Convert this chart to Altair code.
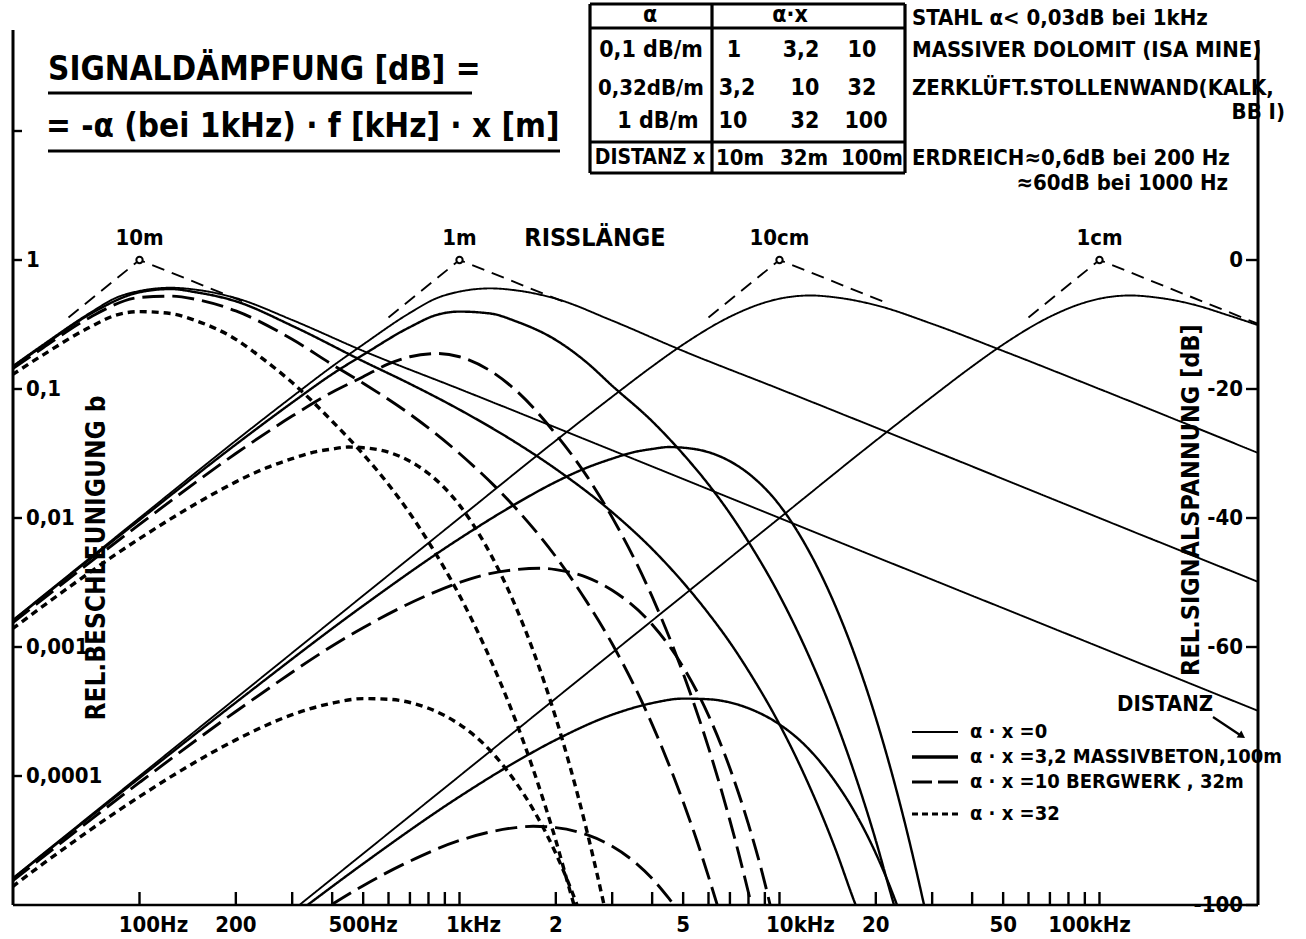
import altair as alt
import pandas as pd

FONT = "DejaVu Sans Condensed, Liberation Sans Narrow, Roboto Condensed, Arial Narrow, DejaVu Sans, sans-serif"
OX, OY = 13, 28          # plot-area origin in the page
W, H = 1245, 877         # plot-area size

# ---------------- data ----------------
# frequency [Hz] / level [dB]; crack length 10m, 1m, 10cm, 1cm
# alpha*x = 0 (thin solid)
t10m_f = [40, 50, 70, 85, 100, 125, 150, 200, 300, 500, 1000, 3000, 10000, 100000, 313000]
t10m_db = [-16.5, -13.1, -8.2, -5.8, -4.8, -4.3, -4.6, -5.9, -9.3, -14.1, -20.0, -29.5, -40.0, -60.0, -69.9]
t1m_f = [40, 100, 200, 300, 400, 500, 700, 850, 1000, 1250, 1500, 2000, 3000, 5000, 10000, 30000, 100000, 313000]
t1m_db = [-55.9, -40.0, -28.0, -21.2, -16.5, -13.1, -8.2, -5.9, -4.9, -4.4, -4.7, -6.0, -9.4, -14.1, -20.0, -29.5, -40.0, -49.9]
t10cm_f = [40, 100, 1000, 2000, 3000, 4000, 5000, 7000, 8500, 10000, 12500, 15000, 20000, 30000, 50000, 100000, 313000]
t10cm_db = [-95.9, -80.0, -40.0, -28.0, -21.2, -16.5, -13.1, -8.8, -7.0, -6.0, -5.5, -5.8, -7.0, -9.9, -14.1, -20.0, -29.9]
t1cm_f = [316, 1000, 10000, 20000, 30000, 40000, 50000, 70000, 85000, 100000, 125000, 150000, 200000, 250000, 313000]
t1cm_db = [-100.0, -80.0, -40.0, -28.0, -21.2, -16.5, -13.1, -8.8, -7.0, -6.0, -5.5, -5.8, -7.0, -8.5, -10.1]

# alpha*x = 3,2 (thick solid)
k10m_f = [40, 50, 70, 100, 125, 150, 200, 300, 500, 700, 1000, 1500, 2000, 3000, 4000, 5000, 6000, 7000, 8000, 10000, 12000, 15000, 17000, 17300]
k10m_db = [-16.6, -13.3, -8.4, -5.0, -4.5, -5.0, -6.4, -10.2, -15.7, -19.2, -23.2, -28.3, -32.4, -39.1, -44.8, -50.0, -54.8, -59.3, -63.7, -72.0, -80.0, -91.5, -99.0, -100.0]
k1m_f = [40, 100, 200, 300, 400, 500, 700, 850, 1000, 1250, 1500, 2000, 2500, 3000, 4000, 5000, 6000, 7000, 8000, 10000, 12000, 15000, 17000, 20000, 22000, 22800]
k1m_db = [-56.0, -40.3, -28.6, -22.1, -17.7, -14.7, -10.4, -8.5, -8.0, -8.3, -9.5, -12.4, -15.9, -19.5, -25.0, -30.1, -34.8, -39.3, -43.7, -52.0, -60.0, -71.5, -79.0, -90.0, -97.3, -100.0]
k10cm_f = [40, 100, 200, 500, 1000, 1500, 2000, 2500, 3000, 3500, 4000, 4500, 5000, 6000, 7000, 8000, 10000, 12000, 15000, 17000, 20000, 22000, 25000, 27000, 28300]
k10cm_db = [-96.0, -80.3, -68.6, -53.6, -43.2, -37.8, -34.4, -32.2, -30.8, -29.8, -29.3, -29.0, -29.1, -29.8, -31.2, -33.1, -38.0, -44.0, -53.8, -60.6, -71.0, -78.0, -88.5, -95.5, -100.0]
k1cm_f = [335, 500, 1000, 1500, 2000, 3000, 4000, 5000, 6000, 7000, 8000, 10000, 12000, 15000, 17000, 20000, 22000, 23300]
k1cm_db = [-100.0, -93.6, -83.2, -77.8, -74.4, -70.5, -68.7, -68.0, -68.1, -68.6, -69.5, -72.0, -75.2, -81.0, -85.2, -92.0, -96.8, -100.0]

# alpha*x = 10 (long dashes)
l10m_f = [40, 50, 70, 100, 125, 150, 200, 300, 400, 500, 700, 1000, 1500, 2000, 2500, 3000, 4000, 5000, 5500, 6000, 6400]
l10m_db = [-16.9, -13.6, -8.9, -5.8, -5.6, -6.1, -7.9, -12.3, -16.2, -19.1, -23.9, -30.0, -38.5, -46.0, -53.0, -59.5, -72.0, -84.0, -89.8, -95.6, -100.1]
l1m_f = [40, 100, 200, 300, 400, 500, 600, 700, 850, 1000, 1250, 1500, 2000, 2500, 3000, 4000, 5000, 6000, 7000, 7500, 8000, 8200]
l1m_db = [-56.3, -41.0, -30.0, -24.2, -20.5, -18.1, -16.1, -15.0, -14.5, -15.0, -17.2, -20.2, -27.0, -33.5, -39.9, -52.2, -64.1, -75.6, -86.9, -92.5, -98.1, -100.3]
l10cm_f = [40, 100, 200, 500, 800, 1000, 1200, 1500, 1800, 2000, 2500, 3000, 4000, 5000, 6000, 7000, 8000, 9000, 9350]
l10cm_db = [-96.3, -81.0, -70.0, -57.0, -51.9, -50.0, -48.8, -48.0, -47.8, -48.0, -49.2, -51.2, -56.5, -63.1, -70.6, -78.8, -87.5, -96.6, -100.0]
l1cm_f = [400, 500, 700, 1000, 1500, 1700, 2000, 2500, 3000, 3500, 4000, 4500, 4700]
l1cm_db = [-99.9, -97.0, -93.2, -90.0, -88.0, -87.8, -88.0, -89.1, -90.9, -93.2, -95.9, -98.9, -100.1]

# alpha*x = 32 (short dashes)
s10m_f = [40, 50, 70, 85, 100, 125, 150, 200, 250, 300, 400, 500, 600, 700, 800, 1000, 1200, 1500, 1700, 2000, 2200, 2280]
s10m_db = [-17.8, -14.7, -10.4, -8.5, -8.0, -8.3, -9.4, -12.3, -15.8, -19.0, -25.0, -30.1, -34.8, -39.3, -43.7, -52.0, -60.0, -71.5, -79.0, -90.0, -97.3, -100.0]
s1m_f = [40, 100, 150, 200, 250, 300, 350, 400, 450, 500, 600, 700, 800, 1000, 1200, 1500, 1700, 2000, 2200, 2500, 2700, 2830]
s1m_db = [-57.2, -43.2, -37.8, -34.4, -32.2, -30.8, -29.8, -29.3, -29.0, -29.1, -29.8, -31.2, -33.1, -38.0, -44.0, -53.8, -60.6, -71.0, -78.0, -88.5, -95.5, -100.0]
s10cm_f = [40, 50, 100, 150, 200, 300, 400, 500, 600, 700, 800, 1000, 1200, 1500, 1700, 2000, 2200, 2330]
s10cm_db = [-97.2, -93.6, -83.2, -77.8, -74.4, -70.5, -68.7, -68.0, -68.1, -68.6, -69.5, -72.0, -75.2, -81.0, -85.2, -92.0, -96.8, -100.0]

# dashed asymptotes (left leg, corner, right leg)
a10m_f = [60, 100, 220]
a1m_f = [600, 1000, 2200]
a10cm_f = [6000, 10000, 22000]
a1cm_f = [60000, 100000, 313000]
a_db = [-8.9, 0.0, -6.8]
a1cm_db = [-8.9, 0.0, -9.9]

# crack lengths (RISSLÄNGE) and their corner frequencies
crack_f = [100, 1000, 10000, 100000]
crack_lbl = ["10m", "1m", "10cm", "1cm"]
corner_db = [0, 0, 0, 0]

# axes
bottom_ticks = [100, 200, 300, 400, 500, 600, 700, 800, 900,
                1000, 2000, 3000, 4000, 5000, 6000, 7000, 8000, 9000,
                10000, 20000, 30000, 40000, 50000, 60000, 70000, 80000, 90000, 100000]
lbl_c_f = [200, 500, 2000, 5000, 20000, 50000]
lbl_c_t = ["200", "500Hz", "2", "5", "20", "50"]
lbl_a_f = [100, 1000]
lbl_a_t = ["100Hz", "1kHz"]
lbl_b_f = [10000]
lbl_b_t = ["10kHz"]
lbl_d_f = [100000]
lbl_d_t = ["100kHz"]
left_db = [20, 0, -20, -40, -60, -80]
left_lbl = ["", "1", "0,1", "0,01", "0,001", "0,0001"]
right_db = [0, -20, -40, -60, -100]
right_lbl = ["0", "-20", "-40", "-60", "-100"]

# ---------------- build tables ----------------
series = [
    ("10m", "0", t10m_f, t10m_db), ("1m", "0", t1m_f, t1m_db),
    ("10cm", "0", t10cm_f, t10cm_db), ("1cm", "0", t1cm_f, t1cm_db),
    ("10m", "3,2", k10m_f, k10m_db), ("1m", "3,2", k1m_f, k1m_db),
    ("10cm", "3,2", k10cm_f, k10cm_db), ("1cm", "3,2", k1cm_f, k1cm_db),
    ("10m", "10", l10m_f, l10m_db), ("1m", "10", l1m_f, l1m_db),
    ("10cm", "10", l10cm_f, l10cm_db), ("1cm", "10", l1cm_f, l1cm_db),
    ("10m", "32", s10m_f, s10m_db), ("1m", "32", s1m_f, s1m_db),
    ("10cm", "32", s10cm_f, s10cm_db),
]
rows = []
for crack, st, fs, dbs in series:
    for f, d in zip(fs, dbs):
        rows.append({"curve": crack + "_" + st, "style": st, "f": f, "db": d})
curve_df = pd.DataFrame(rows)

asy_rows = []
for name, fs, dbs in [("10m", a10m_f, a_db), ("1m", a1m_f, a_db),
                      ("10cm", a10cm_f, a_db), ("1cm", a1cm_f, a1cm_db)]:
    for f, d in zip(fs, dbs):
        asy_rows.append({"curve": name, "f": f, "db": d})
asy_df = pd.DataFrame(asy_rows)

xs = alt.Scale(type="log", domain=[40.24, 312900], nice=False)
ys = alt.Scale(domain=[-100, 35.97], nice=False, zero=False)
X = alt.X("f:Q", scale=xs, axis=None)
Y = alt.Y("db:Q", scale=ys, axis=None)

styles = ["0", "3,2", "10", "32"]
curves = alt.Chart(curve_df).mark_line(clip=True, interpolate="monotone", color="black").encode(
    x=X, y=Y, detail="curve:N",
    strokeDash=alt.StrokeDash("style:N", scale=alt.Scale(domain=styles, range=[[1, 0], [1, 0], [22, 8], [7, 5]]), legend=None),
    strokeWidth=alt.StrokeWidth("style:N", scale=alt.Scale(domain=styles, range=[1.9, 3.4, 3.0, 2.8]), legend=None),
)

asym = alt.Chart(asy_df).mark_line(clip=True, color="black", strokeWidth=1.9, strokeDash=[13, 8]).encode(
    x=X, y=Y, detail="curve:N")

peak_df = pd.DataFrame({"f": crack_f, "db": corner_db, "lbl": crack_lbl})
peaks = alt.Chart(peak_df).mark_point(shape="circle", size=40, filled=True, fill="white",
                                      stroke="black", strokeWidth=2, opacity=1).encode(x=X, y=Y)
peak_lbl = alt.Chart(peak_df).mark_text(fontSize=22, font=FONT, fontWeight="bold", baseline="middle", color="black").encode(
    x=X, y=alt.value(238 - OY), text="lbl:N")


def tx(s, x, y, size=21, align="left", angle=0, weight="bold"):
    return alt.Chart(pd.DataFrame({"t": [s]})).mark_text(
        align=align, baseline="middle", fontSize=size, angle=angle,
        font=FONT, fontWeight=weight, color="black"
    ).encode(x=alt.value(x - OX), y=alt.value(y - OY), text="t:N")


def ln(x1, y1, x2, y2, w=2.0, dash=None):
    kw = dict(strokeWidth=w, color="black")
    if dash:
        kw["strokeDash"] = dash
    return alt.Chart(pd.DataFrame({"a": [0]})).mark_rule(**kw).encode(
        x=alt.value(x1 - OX), x2=alt.value(x2 - OX), y=alt.value(y1 - OY), y2=alt.value(y2 - OY))


layers = [curves, asym, peaks, peak_lbl]

# axes lines
layers += [ln(13, 30, 13, 905, 3), ln(1258, 40, 1258, 905, 3), ln(13, 905, 1258, 905, 2.6)]

# bottom ticks and labels
bt = alt.Chart(pd.DataFrame({"f": bottom_ticks})).mark_rule(color="black", strokeWidth=2.4).encode(
    x=X, y=alt.value(905 - OY), y2=alt.value(892 - OY))
layers.append(bt)
for fs, ts, dx in [(lbl_c_f, lbl_c_t, 0), (lbl_a_f, lbl_a_t, 14), (lbl_b_f, lbl_b_t, 21), (lbl_d_f, lbl_d_t, -10)]:
    layers.append(alt.Chart(pd.DataFrame({"f": fs, "t": ts})).mark_text(
        fontSize=22, font=FONT, fontWeight="bold", baseline="middle", align="center", dx=dx, color="black").encode(
        x=X, y=alt.value(925 - OY), text="t:N"))

# left axis
ldf = pd.DataFrame({"db": left_db, "t": left_lbl})
layers.append(alt.Chart(ldf).mark_rule(color="black", strokeWidth=2.4).encode(
    x=alt.value(0), x2=alt.value(9), y=Y))
layers.append(alt.Chart(ldf).mark_text(fontSize=22, font=FONT, fontWeight="bold", align="left", baseline="middle", color="black").encode(
    x=alt.value(26 - OX), y=Y, text="t:N"))

# right axis
rdf = pd.DataFrame({"db": right_db, "t": right_lbl})
layers.append(alt.Chart(rdf).mark_rule(color="black", strokeWidth=2.4).encode(
    x=alt.value(1246 - OX), x2=alt.value(1258 - OX), y=Y))
layers.append(alt.Chart(rdf).mark_text(fontSize=22, font=FONT, fontWeight="bold", align="right", baseline="middle", color="black").encode(
    x=alt.value(1243 - OX), y=Y, text="t:N"))

# axis titles
layers.append(tx("REL.BESCHLEUNIGUNG  b", 97, 558, size=26, align="center", angle=270))
layers.append(tx("REL.SIGNALSPANNUNG  [dB]", 1191, 500, size=25, align="center", angle=270))
layers.append(tx("RISSLÄNGE", 595, 238, size=25, align="center"))

# formula title
layers.append(tx("SIGNALDÄMPFUNG  [dB] =", 48, 70, size=33))
layers.append(tx("= -α (bei 1kHz)  ·  f  [kHz]  ·  x [m]", 46, 127, size=33))
layers += [ln(48, 93, 472, 93, 3), ln(48, 151, 560, 151, 3)]

# table
layers += [ln(590, 4, 905, 4, 3.2), ln(590, 173, 905, 173, 3.2), ln(590, 4, 590, 173, 3.2),
           ln(905, 4, 905, 173, 3.2), ln(712, 4, 712, 173, 3.2), ln(590, 28, 905, 28, 3.2),
           ln(590, 142, 905, 142, 3.2)]
tsz = 23
layers += [tx("α", 650, 15, tsz, "center"), tx("α·x", 790, 15, tsz, "center"),
           tx("0,1 dB/m", 651, 50, tsz, "center"), tx("1", 734, 50, tsz, "center"),
           tx("3,2", 801, 50, tsz, "center"), tx("10", 862, 50, tsz, "center"),
           tx("0,32dB/m", 651, 88, 22, "center"), tx("3,2", 737, 88, tsz, "center"),
           tx("10", 805, 88, tsz, "center"), tx("32", 862, 88, tsz, "center"),
           tx("1 dB/m", 658, 121, tsz, "center"), tx("10", 733, 121, tsz, "center"),
           tx("32", 805, 121, tsz, "center"), tx("100", 866, 121, tsz, "center"),
           tx("DISTANZ x", 650, 158, 21, "center"), tx("10m", 740, 158, 22, "center"),
           tx("32m", 804, 158, 22, "center"), tx("100m", 872, 158, 22, "center")]

# material notes
nsz = 22
layers += [tx("STAHL  α< 0,03dB bei 1kHz", 912, 18, nsz),
           tx("MASSIVER  DOLOMIT (ISA MINE)", 912, 50, nsz),
           tx("ZERKLÜFT.STOLLENWAND(KALK,", 912, 88, nsz),
           tx("BB I)", 1285, 112, nsz, "right"),
           tx("ERDREICH≈0,6dB bei 200 Hz", 912, 158, nsz),
           tx("≈60dB bei 1000 Hz", 1228, 183, nsz, "right")]

# legend
leg_y = [732, 757, 782, 814]
leg_t = ["α · x =0", "α · x =3,2 MASSIVBETON,100m", "α · x =10  BERGWERK , 32m", "α · x =32"]
leg_w = [1.9, 3.4, 3.0, 2.8]
leg_d = [None, None, [20, 6], [6, 4]]
for yy, tt, ww, dd in zip(leg_y, leg_t, leg_w, leg_d):
    layers.append(ln(912, yy, 958, yy, ww, dd))
    layers.append(tx(tt, 970, yy, 20))

# DISTANZ arrow
layers.append(tx("DISTANZ", 1165, 704, 22, "center"))
layers.append(ln(1213, 717, 1240, 735, 2.2))
layers.append(alt.Chart(pd.DataFrame({"a": [0]})).mark_point(
    shape="triangle-right", size=70, filled=True, color="black", angle=34, opacity=1).encode(
    x=alt.value(1242 - OX), y=alt.value(736 - OY)))

chart = alt.layer(*layers).properties(
    width=W, height=H,
    padding={"left": OX, "top": OY, "right": 1306 - OX - W, "bottom": 939 - OY - H},
    autosize=alt.AutoSizeParams(type="none"),
    background="white",
).configure_view(stroke=None)

chart.save("out.html", embed_options={"renderer": "svg", "actions": False})
